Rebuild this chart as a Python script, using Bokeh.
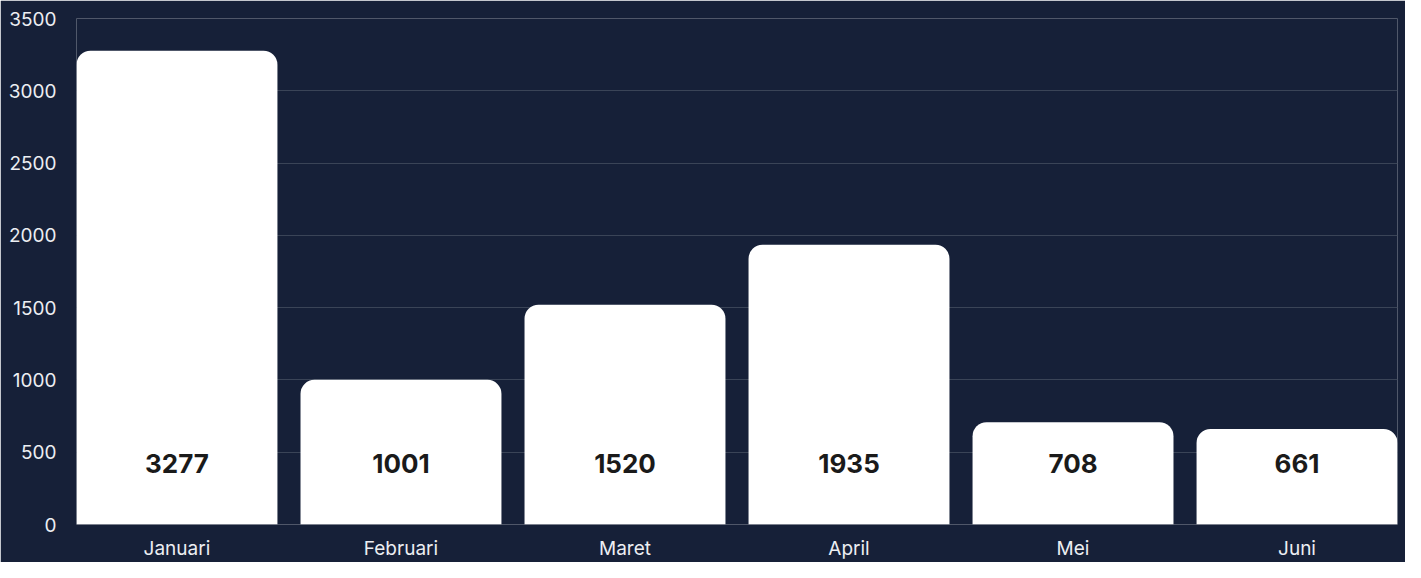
from bokeh.plotting import figure
from bokeh.models import ColumnDataSource, Range1d, FixedTicker, SingleIntervalTicker
from bokeh.core.properties import value
from bokeh.embed import file_html
from bokeh.resources import INLINE

months = ["Januari", "Februari", "Maret", "April", "Mei", "Juni"]
counts = [3277, 1001, 1520, 1935, 708, 661]
y_ticks_interval = 500
y_max = 3500

BG = "#162038"
idx = list(range(len(months)))
src = ColumnDataSource(dict(
    x=idx, top=counts, label=[str(c) for c in counts],
    ly=[420] * len(counts),
))

bar_w = 0.897
p = figure(width=1405, height=562, output_backend="svg", toolbar_location=None,
           x_range=Range1d(-bar_w / 2, len(months) - 1 + bar_w / 2),
           y_range=Range1d(0, y_max),
           min_border_left=76, min_border_right=8, min_border_top=18, min_border_bottom=32)
p.background_fill_color = BG
p.border_fill_color = BG
p.outline_line_color = None

p.vbar(x="x", top="top", bottom=0, width=bar_w, source=src, fill_color="white",
       line_color=None, border_radius=(14, 14, 0, 0))
p.text(x="x", y="ly", text="label", source=src, text_align="center", text_baseline="middle",
       text_font=value("Inter"), text_font_style="bold", text_font_size="26px", text_color="#1a1a1a")

p.xgrid.grid_line_color = None
p.ygrid.grid_line_color = "#3a4457"
p.ygrid.grid_line_width = 1
p.ygrid.level = "underlay"

p.xaxis.ticker = FixedTicker(ticks=idx)
p.xaxis.major_label_overrides = {i: m for i, m in zip(idx, months)}
p.yaxis.ticker = SingleIntervalTicker(interval=y_ticks_interval)
for ax in (p.xaxis, p.yaxis):
    ax.axis_line_color = None
    ax.major_tick_line_color = None
    ax.minor_tick_line_color = None
    ax.major_label_text_color = "#eceef2"
    ax.major_label_text_font = "Inter"
    ax.major_label_text_font_size = "19px"
p.xaxis.major_label_standoff = 6
p.yaxis.major_label_standoff = 14

open("out.html", "w").write(file_html(p, INLINE))
